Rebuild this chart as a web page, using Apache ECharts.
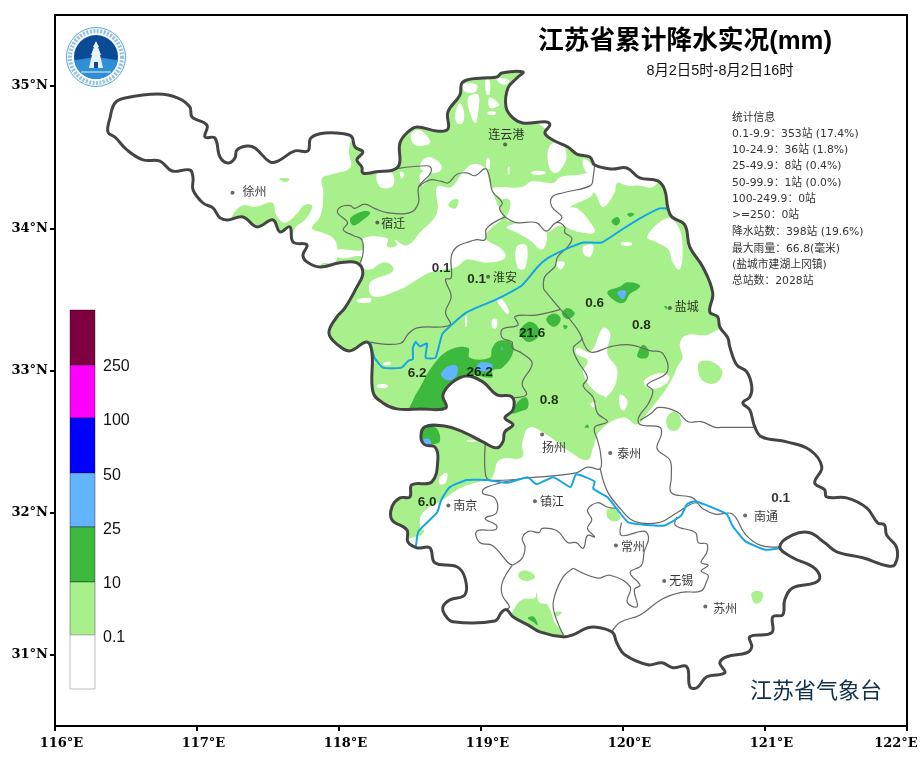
<!DOCTYPE html>
<html>
<head>
<meta charset="utf-8">
<title>江苏省累计降水实况</title>
<script src="https://cdn.jsdelivr.net/npm/echarts@6/dist/echarts.min.js"></script>
<style>
  html, body { margin: 0; padding: 0; background: #fff; }
  #main { width: 920px; height: 763px; }
</style>
</head>
<body>
<div id="main"></div>
<script>
// ---- data: everything in lon / lat ----
const lonTicks = [116, 117, 118, 119, 120, 121, 122];
const latTicks = [31, 32, 33, 34, 35];

const provinceEdge = [[116.373,34.677],[116.387,34.775],[116.422,34.881],[116.493,34.916],[116.725,34.944],[116.866,34.916],[116.950,34.853],[116.965,34.783],[117.070,34.726],[117.056,34.642],[117.126,34.635],[117.162,34.501],[117.218,34.459],[117.267,34.494],[117.281,34.551],[117.352,34.579],[117.408,34.565],[117.514,34.466],[117.570,34.473],[117.690,34.544],[117.781,34.544],[117.802,34.635],[117.901,34.670],[118.042,34.663],[118.091,34.642],[118.112,34.572],[118.168,34.537],[118.126,34.481],[118.161,34.431],[118.168,34.389],[118.253,34.396],[118.415,34.431],[118.429,34.600],[118.485,34.677],[118.548,34.713],[118.689,34.684],[118.767,34.698],[118.767,34.818],[118.851,34.937],[118.872,35.029],[119.013,35.057],[119.112,35.064],[119.147,35.092],[119.295,35.099],[119.253,35.057],[119.190,34.987],[119.176,34.853],[119.225,34.776],[119.295,34.741],[119.464,34.748],[119.485,34.726],[119.450,34.670],[119.506,34.621],[119.612,34.572],[119.675,34.522],[119.767,34.501],[119.802,34.445],[119.921,34.417],[120.027,34.424],[120.118,34.354],[120.245,34.333],[120.294,34.270],[120.316,34.143],[120.344,34.080],[120.435,34.024],[120.470,33.869],[120.562,33.728],[120.632,33.546],[120.611,33.412],[120.667,33.377],[120.682,33.306],[120.738,33.229],[120.752,33.166],[120.801,33.039],[120.872,32.990],[120.907,32.885],[120.893,32.814],[120.844,32.772],[120.893,32.723],[120.928,32.603],[120.977,32.533],[121.153,32.498],[121.315,32.442],[121.400,32.322],[121.350,32.210],[121.420,32.161],[121.434,32.111],[121.575,32.104],[121.716,32.034],[121.793,31.929],[121.842,31.915],[121.856,31.844],[121.928,31.753],[121.914,31.634],[121.858,31.627],[121.689,31.683],[121.505,31.725],[121.421,31.788],[121.315,31.859],[121.196,31.844],[121.104,31.760],[121.196,31.683],[121.336,31.620],[121.386,31.549],[121.350,31.507],[121.196,31.472],[121.139,31.387],[121.125,31.282],[121.055,31.268],[121.048,31.156],[120.893,31.127],[120.907,31.057],[120.872,31.015],[120.731,30.987],[120.682,30.945],[120.717,30.874],[120.590,30.846],[120.520,30.769],[120.471,30.776],[120.449,30.917],[120.351,30.910],[120.274,30.945],[120.175,30.931],[120.013,31.001],[119.956,31.085],[119.928,31.156],[119.837,31.191],[119.752,31.191],[119.647,31.141],[119.577,31.127],[119.414,31.162],[119.330,31.211],[119.225,31.268],[119.182,31.317],[119.147,31.303],[119.098,31.239],[118.802,31.233],[118.746,31.282],[118.732,31.338],[118.781,31.387],[118.887,31.423],[118.887,31.542],[118.830,31.620],[118.675,31.648],[118.640,31.753],[118.549,31.753],[118.485,31.795],[118.478,31.880],[118.373,31.950],[118.373,32.041],[118.429,32.104],[118.499,32.111],[118.513,32.196],[118.654,32.217],[118.696,32.372],[118.675,32.463],[118.605,32.477],[118.577,32.533],[118.605,32.604],[118.732,32.611],[118.872,32.569],[119.013,32.498],[119.112,32.456],[119.154,32.498],[119.168,32.569],[119.225,32.618],[119.168,32.667],[119.225,32.723],[119.218,32.815],[119.112,32.829],[119.013,32.920],[118.901,32.962],[118.802,32.920],[118.732,32.829],[118.753,32.737],[118.570,32.730],[118.408,32.730],[118.309,32.772],[118.239,32.850],[118.232,33.124],[118.197,33.201],[118.077,33.138],[117.992,33.180],[117.929,33.264],[117.985,33.377],[118.042,33.440],[118.126,33.588],[118.168,33.686],[118.126,33.757],[118.006,33.757],[117.866,33.728],[117.774,33.764],[117.746,33.813],[117.774,33.883],[117.676,33.904],[117.654,34.010],[117.584,33.975],[117.535,34.059],[117.422,34.010],[117.324,34.080],[117.218,34.059],[117.162,34.073],[117.112,34.143],[117.042,34.178],[116.972,34.270],[116.972,34.354],[116.950,34.410],[116.824,34.403],[116.739,34.473],[116.620,34.481],[116.507,34.551],[116.422,34.642]];

// 0.1-10 mm: one big belt (clipped to the province), then isolated patches
const rainLight = [
  [[117.88,34.35],[117.95,34.38],[118.08,34.43],[118.07,34.55],[118.11,34.64],[118.43,34.73],[118.71,35.15],[119.34,35.18],[119.34,34.80],[119.84,34.55],[120.40,34.34],[120.68,33.85],[120.82,33.29],[120.68,33.29],[120.59,33.25],[120.45,33.25],[120.40,33.19],[120.42,33.09],[120.39,33.04],[120.34,32.93],[120.26,32.81],[120.17,32.70],[120.10,32.62],[120.00,32.67],[119.84,32.58],[119.79,32.46],[119.75,32.37],[119.61,32.44],[119.46,32.55],[119.34,32.60],[119.29,32.49],[119.29,32.39],[119.13,32.37],[119.08,32.25],[119.03,32.23],[118.87,32.18],[118.73,32.09],[118.59,32.00],[118.57,31.90],[118.60,31.87],[118.55,31.83],[118.29,31.81],[118.32,32.23],[118.50,32.65],[118.22,32.65],[117.83,33.22],[117.87,33.74],[117.97,33.76],[117.99,33.85],[117.96,33.93],[117.88,33.97],[117.81,34.00],[117.87,34.09],[117.89,34.25]],
  [[120.54,33.06],[120.63,33.06],[120.70,32.99],[120.65,32.91],[120.56,32.93],[120.53,33.00]],
  [[120.31,32.67],[120.37,32.71],[120.41,32.64],[120.38,32.58],[120.32,32.59]],
  [[120.91,31.44],[120.98,31.44],[120.98,31.39],[120.94,31.36],[120.91,31.39]],
  [[119.89,32.02],[119.94,32.03],[119.98,31.96],[119.93,31.94],[119.89,31.97]],
  [[119.27,31.58],[119.33,31.59],[119.38,31.55],[119.33,31.52],[119.27,31.54]],
  [[119.22,31.30],[119.29,31.39],[119.38,31.40],[119.39,31.44],[119.41,31.37],[119.47,31.35],[119.52,31.23],[119.60,31.11],[119.41,31.11],[119.20,31.23]],
  [[119.52,31.30],[119.57,31.30],[119.53,31.27]],
  [[117.25,34.09],[117.32,34.16],[117.41,34.15],[117.53,34.18],[117.56,34.09],[117.62,34.04],[117.71,34.11],[117.75,34.16],[117.81,34.16],[117.77,34.07],[117.69,34.00],[117.65,33.92],[117.23,33.99]],
  [[117.58,34.35],[117.65,34.35],[117.64,34.33],[117.60,34.33]]
];

// dry gaps cut into the belt
const dryGaps = [
  [[118.69,34.29],[118.79,34.29],[118.87,34.39],[118.94,34.45],[119.03,34.42],[119.06,34.32],[119.11,34.18],[119.15,34.08],[119.06,33.99],[119.03,33.93],[119.15,33.85],[119.17,33.79],[119.04,33.76],[118.90,33.78],[118.83,33.73],[118.64,33.69],[118.55,33.64],[118.43,33.57],[118.24,33.52],[118.22,33.62],[118.37,33.69],[118.38,33.73],[118.31,33.76],[118.22,33.71],[118.16,33.73],[118.16,33.80],[118.03,33.79],[117.97,33.81],[117.99,33.85],[118.17,33.85],[118.17,33.93],[118.34,33.93],[118.34,33.87],[118.41,33.88],[118.39,33.92],[118.48,33.88],[118.57,33.97],[118.69,34.11]],
  [[119.08,34.28],[119.29,34.29],[119.36,34.33],[119.51,34.32],[119.56,34.36],[119.75,34.39],[119.80,34.45],[119.92,34.48],[120.03,34.48],[120.12,34.41],[120.26,34.38],[120.21,34.29],[120.12,34.30],[120.03,34.30],[119.96,34.32],[119.94,34.25],[119.86,34.15],[119.80,34.25],[119.77,34.22],[119.63,34.15],[119.68,34.14],[119.77,34.04],[119.80,33.97],[119.71,33.97],[119.64,33.99],[119.56,34.02],[119.46,33.97],[119.39,33.99],[119.27,34.04],[119.18,34.06],[119.20,34.15],[119.15,34.20]],
  [[118.51,34.67],[118.57,34.69],[118.64,34.62],[118.63,34.59],[118.53,34.59]],
  [[118.82,34.81],[118.85,34.88],[118.88,34.82],[118.87,34.74],[118.83,34.74]],
  [[118.91,34.92],[118.98,34.94],[118.98,34.82],[118.96,34.74],[118.92,34.82]],
  [[119.06,34.92],[119.13,34.87],[119.10,34.85],[119.06,34.85]],
  [[119.05,34.82],[119.10,34.82],[119.10,34.80],[119.05,34.80]],
  [[118.87,35.01],[118.97,35.01],[118.96,34.96],[118.89,34.96]],
  [[119.03,35.04],[119.06,35.04],[119.06,34.94],[119.04,34.94]],
  [[119.11,35.06],[119.20,35.04],[119.17,35.01],[119.12,35.03]],
  [[119.48,34.57],[119.56,34.61],[119.60,34.53],[119.59,34.46],[119.53,34.39],[119.48,34.43]],
  [[119.72,34.49],[119.79,34.43],[119.77,34.39],[119.73,34.41]],
  [[118.62,34.50],[118.71,34.46],[118.72,34.41],[118.65,34.39],[118.57,34.43]],
  [[119.36,34.40],[119.45,34.40],[119.45,34.38],[119.36,34.38]],
  [[119.04,34.49],[119.06,34.49],[119.06,34.42],[119.04,34.42]],
  [[119.19,34.43],[119.20,34.43],[119.20,34.38],[119.19,34.38]],
  [[118.43,34.40],[118.46,34.38],[118.44,34.35]],
  [[118.27,34.39],[118.37,34.39],[118.38,34.30],[118.29,34.29]],
  [[118.57,34.38],[118.64,34.41],[118.59,34.30]],
  [[119.86,33.30],[119.91,33.26],[119.89,33.12],[119.96,33.00],[119.91,32.84],[119.82,32.84],[119.72,32.98],[119.75,33.07],[119.67,33.12],[119.68,33.16],[119.77,33.13]],
  [[120.15,32.93],[120.26,32.98],[120.33,32.95],[120.26,32.88],[120.17,32.88]],
  [[120.17,33.94],[120.31,34.07],[120.39,34.01],[120.42,33.87],[120.40,33.71],[120.35,33.76],[120.32,33.85],[120.24,33.90]],
  [[119.99,33.90],[120.06,33.90],[120.06,33.88],[119.99,33.88]],
  [[119.72,33.87],[119.79,33.88],[119.77,33.80],[119.73,33.81]],
  [[119.53,33.76],[119.59,33.76],[119.56,33.71]],
  [[119.11,33.50],[119.15,33.50],[119.20,33.41],[119.18,33.40]],
  [[118.89,33.38],[118.90,33.38],[118.90,33.31],[118.89,33.31]],
  [[119.08,33.36],[119.11,33.36],[119.11,33.30],[119.08,33.30]],
  [[118.27,32.90],[118.34,32.90],[118.34,32.88],[118.27,32.88]],
  [[118.13,33.50],[118.22,33.51],[118.22,33.48],[118.13,33.48]],
  [[118.31,33.05],[118.36,33.06],[118.36,33.04],[118.31,33.04]],
  [[118.71,32.25],[118.76,32.28],[118.75,32.21],[118.71,32.20]],
  [[118.90,32.51],[118.96,32.51],[118.96,32.50],[118.90,32.50]],
  [[119.84,32.85],[119.89,32.84],[119.88,32.81]],
  [[119.98,32.83],[120.03,32.79],[120.01,32.72],[119.98,32.74]],
  [[119.77,32.77],[119.81,32.77],[119.79,32.74]],
  [[119.25,33.87],[119.32,33.88],[119.31,33.72],[119.26,33.72]],
  [[119.18,34.01],[119.36,34.04],[119.46,33.97],[119.43,33.85],[119.34,33.92],[119.25,33.97]]
];

// small wet islands inside the dry gaps
const wetIslands = [
  [[118.80,34.20],[118.84,34.20],[118.82,34.14],[118.77,34.16]],
  [[119.15,34.20],[119.20,34.20],[119.20,34.14],[119.16,34.14]]
];

// 10-25 mm
const rainMid = [
  [[118.50,32.70],[118.53,32.81],[118.57,32.88],[118.65,33.02],[118.77,33.14],[118.91,33.16],[118.92,33.09],[119.06,33.09],[119.08,33.16],[119.13,33.21],[119.22,33.19],[119.22,33.11],[119.15,33.02],[119.08,33.00],[119.08,32.95],[118.90,32.97],[118.80,32.92],[118.73,32.83],[118.75,32.70]],
  [[119.27,33.27],[119.33,33.34],[119.39,33.32],[119.41,33.25],[119.34,33.20],[119.29,33.23]],
  [[119.46,33.36],[119.51,33.40],[119.56,33.37],[119.54,33.32],[119.50,33.31]],
  [[119.57,33.40],[119.61,33.44],[119.66,33.40],[119.61,33.36]],
  [[119.58,33.32],[119.61,33.31],[119.59,33.29]],
  [[119.22,32.70],[119.27,32.79],[119.32,32.81],[119.33,32.74],[119.27,32.71]],
  [[118.59,32.58],[118.68,32.60],[118.71,32.50],[118.64,32.48],[118.57,32.49]],
  [[119.89,33.55],[119.98,33.59],[120.03,33.62],[120.12,33.60],[120.10,33.57],[120.05,33.54],[120.01,33.48],[119.96,33.48]],
  [[120.10,33.11],[120.14,33.18],[120.18,33.14],[120.17,33.09],[120.11,33.09]],
  [[119.92,34.05],[119.96,34.08],[119.98,34.05],[119.95,34.02]],
  [[120.03,34.10],[120.06,34.11],[120.08,34.10],[120.05,34.08]],
  [[118.08,34.07],[118.17,34.12],[118.22,34.11],[118.17,34.06],[118.10,34.02]],
  [[119.73,32.60],[119.75,32.62],[119.76,32.60]],
  [[119.33,31.26],[119.37,31.27],[119.40,31.21],[119.37,31.23]],
  [[120.29,33.45],[120.31,33.45],[120.31,33.43]]
];

// 25-50 mm
const rainHeavy = [
  [[118.72,32.98],[118.77,33.03],[118.83,33.03],[118.83,32.97],[118.78,32.93],[118.73,32.95]],
  [[118.97,33.03],[119.01,33.06],[119.08,33.04],[119.06,33.00],[118.98,33.00]],
  [[119.14,33.16],[119.15,33.16],[119.15,33.14]],
  [[118.59,32.51],[118.63,32.52],[118.65,32.49],[118.62,32.47]],
  [[119.96,33.55],[120.02,33.56],[120.00,33.50]]
];

const cityBorders = [
  [[118.15,33.76],[118.17,33.83],[118.16,33.92],[118.10,33.95],[118.03,33.99],[118.06,34.04],[117.99,34.11],[118.01,34.15],[118.08,34.16],[118.11,34.14],[118.18,34.17],[118.25,34.14],[118.34,34.11],[118.50,34.11],[118.56,34.18],[118.56,34.29],[118.64,34.38],[118.65,34.42],[118.62,34.44],[118.41,34.42]],
  [[118.56,34.29],[118.64,34.34],[118.72,34.33],[118.77,34.32],[118.83,34.38],[118.90,34.39],[118.96,34.37],[119.03,34.42],[119.06,34.36],[119.08,34.26],[119.15,34.18],[119.13,34.14],[119.17,34.08]],
  [[119.17,34.08],[119.04,34.00],[119.03,33.92],[118.97,33.92],[118.90,33.90],[118.83,33.87],[118.79,33.80],[118.79,33.65],[118.75,33.64],[118.79,33.52],[118.75,33.41],[118.78,33.32],[118.55,33.30],[118.49,33.26],[118.43,33.19],[118.22,33.20]],
  [[119.17,34.08],[119.25,34.04],[119.39,34.04],[119.46,33.98],[119.53,34.04],[119.59,34.01],[119.59,33.97],[119.64,33.93],[119.61,33.87],[119.54,33.80],[119.52,33.73],[119.45,33.66],[119.44,33.58],[119.46,33.55],[119.56,33.43]],
  [[119.53,34.04],[119.57,34.08],[119.50,34.15],[119.50,34.22],[119.58,34.25],[119.77,34.30],[119.79,34.36],[119.80,34.45]],
  [[119.56,33.43],[119.39,33.39],[119.24,33.38],[119.26,33.32],[119.15,33.29],[119.15,33.23],[119.22,33.20],[119.22,33.16],[119.29,33.12],[119.36,33.05],[119.29,32.91],[119.32,32.83],[119.22,32.81]],
  [[119.56,33.43],[119.71,33.23],[119.65,33.16],[119.68,33.07],[119.75,32.95],[119.72,32.89],[119.79,32.81],[119.82,32.70],[119.89,32.64],[119.80,32.60],[119.82,32.51],[119.84,32.43],[119.84,32.31],[119.75,32.32],[119.67,32.28],[119.39,32.25],[119.06,32.23],[119.03,32.28],[119.03,32.49]],
  [[119.71,33.23],[119.77,33.13],[119.92,33.17],[120.05,33.18],[120.19,33.14],[120.28,33.12],[120.31,32.99],[120.17,32.90],[120.21,32.86],[120.18,32.77],[120.11,32.67],[120.12,32.62],[120.26,32.60],[120.27,32.55],[120.24,32.45],[120.33,32.37],[120.34,32.25],[120.34,32.14],[120.48,32.11],[120.52,32.08]],
  [[120.12,32.65],[120.20,32.70],[120.25,32.74],[120.38,32.71],[120.46,32.64],[120.55,32.64],[120.65,32.60],[120.69,32.60],[120.94,32.60]],
  [[119.84,32.31],[119.89,32.15],[119.98,32.03],[120.08,31.94],[120.25,31.93],[120.38,32.00],[120.51,32.07],[120.56,32.03],[120.65,31.99],[120.77,31.99],[120.86,31.85],[120.97,31.77],[121.10,31.76]],
  [[120.38,31.97],[120.37,31.91],[120.51,31.86],[120.53,31.79],[120.59,31.78],[120.59,31.72],[120.55,31.65],[120.60,31.63],[120.55,31.59],[120.60,31.56],[120.59,31.52],[120.55,31.45],[120.41,31.44],[120.27,31.39],[120.12,31.28],[119.98,31.23],[119.92,31.16]],
  [[119.99,31.93],[119.99,31.84],[120.15,31.87],[120.18,31.82],[120.15,31.73],[120.13,31.63],[120.05,31.58],[120.12,31.49],[120.08,31.46],[120.10,31.34],[120.03,31.37],[120.05,31.48],[119.91,31.56],[119.82,31.54],[119.65,31.61]],
  [[119.65,31.61],[119.58,31.55],[119.52,31.42],[119.51,31.32],[119.58,31.14]],
  [[119.24,32.23],[119.04,32.18],[119.01,32.14],[119.10,32.10],[119.11,32.00],[119.03,31.96],[119.11,31.91],[119.10,31.88],[118.97,31.87],[118.99,31.79],[119.08,31.77],[119.19,31.65],[119.22,31.63]],
  [[119.22,31.63],[119.29,31.68],[119.31,31.76],[119.29,31.82],[119.34,31.87],[119.41,31.86],[119.43,31.89],[119.54,31.87],[119.61,31.79],[119.67,31.79],[119.72,31.75],[119.75,31.84],[119.80,31.83],[119.75,31.89],[119.78,31.95],[119.75,32.02],[119.82,32.07],[119.89,32.04],[119.96,32.03]],
  [[119.22,31.63],[119.15,31.51],[119.15,31.42],[119.20,31.34],[119.18,31.32]]
];

const huaiRiver = [[120.32,34.14],[120.26,34.14],[120.12,34.07],[119.99,33.99],[119.85,33.90],[119.72,33.90],[119.59,33.85],[119.47,33.79],[119.40,33.73],[119.29,33.60],[119.11,33.50],[118.90,33.41],[118.73,33.26],[118.68,33.09],[118.61,33.09],[118.62,33.19],[118.57,33.17],[118.54,33.20],[118.52,33.16],[118.52,33.08],[118.49,33.07],[118.44,33.02],[118.31,33.02],[118.25,33.09],[118.22,33.20]];
const yangtzeRiver = [[121.10,31.75],[121.00,31.74],[120.86,31.80],[120.77,31.91],[120.73,31.99],[120.51,32.08],[120.45,32.06],[120.41,31.98],[120.29,31.91],[120.04,31.93],[119.97,32.01],[119.89,32.11],[119.79,32.17],[119.80,32.22],[119.67,32.27],[119.63,32.18],[119.51,32.25],[119.39,32.20],[119.33,32.25],[119.18,32.21],[119.04,32.23],[118.90,32.23],[118.78,32.18],[118.72,32.09],[118.69,32.00],[118.56,31.87],[118.54,31.75]];

const cityNames = ['徐州', '宿迁', '连云港', '淮安', '盐城', '扬州', '泰州', '南通', '南京', '镇江', '常州', '无锡', '苏州'];
const cityLons = [117.25, 118.27, 119.17, 119.05, 120.33, 119.43, 119.91, 120.86, 118.77, 119.38, 119.95, 120.29, 120.58];
const cityLats = [34.25, 34.04, 34.59, 33.66, 33.44, 32.55, 32.42, 31.98, 32.05, 32.08, 31.77, 31.52, 31.34];

const stationValues = ['0.1', '0.1', '0.6', '0.8', '21.6', '6.2', '26.2', '0.8', '6.0', '0.1'];
const stationLons = [118.72, 118.97, 119.80, 120.13, 119.36, 118.55, 118.99, 119.48, 118.62, 121.11];
const stationLats = [33.72, 33.64, 33.47, 33.32, 33.26, 32.98, 32.99, 32.79, 32.07, 32.10];

const legendLabels = ['250', '100', '50', '25', '10', '0.1'];
const legendColors = ['#7e0040', '#ff00ff', '#0000ff', '#62b4ff', '#3db93d', '#a8f08c', '#ffffff'];

const statLines = [
  '统计信息',
  '0.1-9.9：353站 (17.4%)',
  '10-24.9：36站 (1.8%)',
  '25-49.9：8站 (0.4%)',
  '50-99.9：1站 (0.0%)',
  '100-249.9：0站',
  '>=250：0站',
  '降水站数：398站 (19.6%)',
  '最大雨量：66.8(毫米)',
  '(盐城市建湖上冈镇)',
  '总站数：2028站'
];

// ---- layout only, not data ----
const CJK = '"Noto Sans CJK SC", "Noto Sans", sans-serif';
const LATIN_CJK = '"Liberation Sans", ' + CJK;
const cityLabelOffset = [[22,-1],[16,1],[1,-10],[17,1],[17,-1],[12,13],[19,0],[21,1],[17,0],[17,0],[17,1],[17,-1],[20,2]];
const legendEdges = [310, 365, 418, 473, 527, 582, 635, 689];
const legendTextY = [367, 421, 476, 530, 584, 638];
const statLineY = [118, 134, 150, 166, 183, 199, 215, 232, 249, 265, 281];
const SMOOTH = 0.4;
const AXIS_FONT = { color: '#000', fontFamily: '"DejaVu Serif", serif', fontWeight: 'bold', fontSize: 13 };

function toPixels(api, ring) {
  return ring.map(p => api.coord(p));
}

// filled patches, always clipped to the province edge
function patchSeries(name, rings, color, z) {
  return {
    name, type: 'custom', coordinateSystem: 'cartesian2d', silent: true, z, clip: false,
    data: rings.map((r, i) => [r[0][0], r[0][1], i]),
    encode: { x: 0, y: 1 },
    renderItem(params, api) {
      return {
        type: 'polygon',
        shape: { points: toPixels(api, rings[params.dataIndex]), smooth: SMOOTH },
        style: { fill: color, stroke: null },
        clipPath: { type: 'polygon', shape: { points: toPixels(api, provinceEdge), smooth: SMOOTH } }
      };
    }
  };
}

function lineSeries(name, paths, color, width, z, smooth, closed) {
  return {
    name, type: 'custom', coordinateSystem: 'cartesian2d', silent: true, z, clip: false,
    data: paths.map((r, i) => [r[0][0], r[0][1], i]),
    encode: { x: 0, y: 1 },
    renderItem(params, api) {
      return {
        type: closed ? 'polygon' : 'polyline',
        shape: { points: toPixels(api, paths[params.dataIndex]), smooth },
        style: { fill: null, stroke: color, lineWidth: width, lineJoin: 'round' }
      };
    }
  };
}

// legend bar + legend text + logo + corner texts
const graphics = [];
legendColors.forEach((c, i) => {
  graphics.push({
    type: 'rect', silent: true,
    shape: { x: 70, y: legendEdges[i], width: 25, height: legendEdges[i + 1] - legendEdges[i] },
    style: { fill: c, stroke: i === legendColors.length - 1 ? '#bdbdbd' : 'rgba(0,0,0,0.35)', lineWidth: 1 }
  });
});
legendLabels.forEach((t, i) => {
  graphics.push({
    type: 'text', silent: true, x: 103, y: legendTextY[i],
    style: { text: t, fill: '#111', font: '16px "Liberation Sans", Arial, sans-serif', textVerticalAlign: 'middle' }
  });
});
statLines.forEach((t, i) => {
  graphics.push({
    type: 'text', silent: true, x: 732, y: statLineY[i],
    style: { text: t, fill: '#333', font: '10.8px "DejaVu Sans", ' + CJK, textVerticalAlign: 'middle' }
  });
});
graphics.push(
  { type: 'text', silent: true, x: 685, y: 42,
    style: { text: '江苏省累计降水实况(mm)', fill: '#000', font: 'bold 25.7px ' + LATIN_CJK, textAlign: 'center', textVerticalAlign: 'middle' } },
  { type: 'text', silent: true, x: 720, y: 71,
    style: { text: '8月2日5时-8月2日16时', fill: '#111', font: '14.4px ' + LATIN_CJK, textAlign: 'center', textVerticalAlign: 'middle' } },
  { type: 'text', silent: true, x: 816, y: 690,
    style: { text: '江苏省气象台', fill: '#12304a', font: '22px ' + CJK, textAlign: 'center', textVerticalAlign: 'middle' } },
  // logo
  { type: 'circle', silent: true, shape: { cx: 96, cy: 57, r: 29.5 }, style: { fill: '#f4fafd', stroke: '#5aa6d6', lineWidth: 1 } },
  { type: 'circle', silent: true, shape: { cx: 96, cy: 57, r: 26 }, style: { fill: null, stroke: '#6fa8cf', lineWidth: 4, lineDash: [2, 1.5], opacity: 0.7 } },
  { type: 'circle', silent: true, shape: { cx: 96, cy: 57, r: 22 }, style: { fill: '#0c4a96' } },
  { type: 'sector', silent: true, shape: { cx: 96, cy: 57, r: 22, startAngle: 0.15, endAngle: Math.PI - 0.15 }, style: { fill: '#2e8fd6' } },
  { type: 'polygon', silent: true, shape: { points: [[96,41],[99,47],[98,47],[101,55],[100,55],[103,68],[89,68],[92,55],[91,55],[94,47],[93,47]] }, style: { fill: '#e8f3fa' } },
  { type: 'rect', silent: true, shape: { x: 94, y: 62, width: 4, height: 6 }, style: { fill: '#0c4a96' } },
  { type: 'line', silent: true, shape: { x1: 81, y1: 72, x2: 111, y2: 72 }, style: { stroke: '#e8f3fa', lineWidth: 1 } }
);

const option = {
  animation: false,
  backgroundColor: '#ffffff',
  grid: { left: 55, right: 13, top: 15, bottom: 37, outerBoundsMode: 'none', show: true, borderColor: '#000', borderWidth: 2, backgroundColor: 'transparent' },
  xAxis: {
    type: 'value', min: 116, max: 122, interval: 1,
    splitLine: { show: false },
    axisLine: { show: true, onZero: false, lineStyle: { color: '#000', width: 2 } },
    axisTick: { show: true, length: 5, lineStyle: { color: '#000', width: 2 } },
    axisLabel: {
      ...AXIS_FONT, margin: 11,
      customValues: lonTicks, hideOverlap: false, showMinLabel: true, showMaxLabel: true,
      formatter: v => (v === 122 ? '{last|' : '{std|') + v + '°E}',
      rich: {
        std: { ...AXIS_FONT, padding: [0, 0, 0, 13] },
        last: { ...AXIS_FONT, padding: [0, 22, 0, 0] }
      }
    }
  },
  yAxis: {
    type: 'value', min: 30.5, max: 35.5, interval: 0.5,
    splitLine: { show: false },
    axisLine: { show: true, onZero: false, lineStyle: { color: '#000', width: 2 } },
    axisTick: { show: true, length: 5, customValues: latTicks, lineStyle: { color: '#000', width: 2 } },
    axisLabel: { ...AXIS_FONT, margin: 7, customValues: latTicks, formatter: v => v + '°N' }
  },
  graphic: graphics,
  series: [
    patchSeries('0.1-10', rainLight, legendColors[5], 2),
    patchSeries('dry', dryGaps, '#ffffff', 2),
    patchSeries('0.1-10 islands', wetIslands, legendColors[5], 2),
    patchSeries('10-25', rainMid, legendColors[4], 2),
    patchSeries('25-50', rainHeavy, legendColors[3], 2),
    lineSeries('borders', cityBorders, '#666666', 1.2, 3, SMOOTH),
    lineSeries('huai', [huaiRiver], '#14a5e6', 2, 3, 0.15),
    lineSeries('yangtze', [yangtzeRiver], '#14a5e6', 2, 3, 0.15),
    lineSeries('province', [provinceEdge], '#444444', 3, 4, SMOOTH, true),
    {
      name: 'cities', type: 'scatter', silent: true, z: 5, symbolSize: 4,
      itemStyle: { color: '#444' },
      data: cityNames.map((n, i) => ({
        name: n, value: [cityLons[i], cityLats[i]],
        label: { offset: cityLabelOffset[i] }
      })),
      label: { show: true, position: 'inside', formatter: '{b}', color: '#000', fontSize: 12, fontFamily: CJK }
    },
    {
      name: 'stations', type: 'scatter', silent: true, z: 6, symbolSize: 1,
      itemStyle: { color: 'transparent' },
      data: stationValues.map((v, i) => ({ name: v, value: [stationLons[i], stationLats[i]] })),
      label: { show: true, position: 'inside', formatter: '{b}', color: '#000', fontSize: 13.5, fontWeight: 'bold', fontFamily: '"Liberation Sans", Arial, sans-serif' }
    }
  ]
};

echarts.init(document.getElementById('main')).setOption(option);
</script>
</body>
</html>
